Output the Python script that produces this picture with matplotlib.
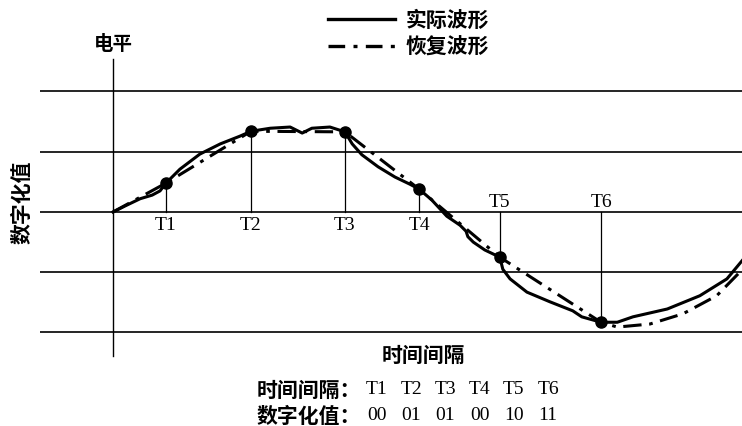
import matplotlib
matplotlib.use("Agg")
import matplotlib.pyplot as plt
from matplotlib.lines import Line2D

plt.rcParams['font.family'] = ['Noto Sans CJK SC', 'DejaVu Sans']

# sample instants and the level of the waveform at each one
sample_labels = ['T1', 'T2', 'T3', 'T4', 'T5', 'T6']
sample_codes = ['00', '01', '01', '00', '10', '11']
sample_t = [0.88, 2.29, 3.85, 5.08, 6.42, 8.10]
sample_v = [0.48, 1.34, 1.33, 0.38, -0.75, -1.83]

# actual analogue waveform (traced)
actual_t = [0.00, 0.20, 0.45, 0.65, 0.78, 0.88, 1.11, 1.44, 1.78, 2.11, 2.29,
            2.61, 2.94, 3.14, 3.30, 3.60, 3.85, 3.97, 4.13, 4.40, 4.68, 4.93,
            5.08, 5.29, 5.54, 5.76, 5.86, 5.89, 5.98, 6.17, 6.42, 6.47, 6.59,
            6.87, 7.25, 7.63, 7.78, 8.10, 8.37, 8.63, 9.20, 9.74, 10.19, 10.49]
actual_v = [0.00, 0.10, 0.22, 0.28, 0.35, 0.48, 0.71, 0.96, 1.13, 1.26, 1.34,
            1.39, 1.41, 1.31, 1.39, 1.41, 1.33, 1.13, 0.95, 0.75, 0.58, 0.46,
            0.38, 0.20, -0.07, -0.22, -0.32, -0.41, -0.50, -0.63, -0.75, -0.95, -1.11,
            -1.33, -1.49, -1.64, -1.74, -1.83, -1.83, -1.74, -1.61, -1.39, -1.11, -0.75]

# recovered waveform: origin, the samples, then the tail after T6
recovered_t = [0.00] + sample_t + [8.37, 8.91, 9.46, 10.02, 10.49]
recovered_v = [0.00] + sample_v + [-1.91, -1.86, -1.69, -1.39, -0.91]

levels = [2, 1, 0, -1, -2]

fig = plt.figure(figsize=(7.42, 4.27), dpi=100)
ax = fig.add_axes([0, 0, 1, 1])
ax.set_xlim(-1.876, 10.44)
ax.set_ylim(-3.552, 3.535)
ax.axis('off')

# level lines and the vertical axis
for lv in levels:
    ax.plot([-1.21, 10.44], [lv, lv], color='black', lw=1.2, solid_capstyle='butt')
ax.plot([0, 0], [-2.39, 2.54], color='black', lw=1.0)

# stems from the zero line to each sample
for t, v in zip(sample_t, sample_v):
    ax.plot([t, t], [0, v], color='black', lw=0.9)

ax.plot(actual_t, actual_v, color='black', lw=2.2, solid_joinstyle='round')
ax.plot(recovered_t, recovered_v, color='black', lw=2.2,
        linestyle=(0, (6, 2.5, 1.2, 2.5)))
ax.plot(sample_t, sample_v, 'o', color='black', markersize=8)

# sample labels: below the zero line for positive samples, above otherwise
for t, v, lab in zip(sample_t, sample_v, sample_labels):
    if v > 0:
        ax.text(t, -0.2, lab, ha='center', va='center', fontsize=14,
                family='Liberation Serif')
    else:
        ax.text(t, 0.17, lab, ha='center', va='center', fontsize=14,
                family='Liberation Serif')

ax.text(0.0, 2.79, '电平', ha='center', va='center', fontsize=14, fontweight='bold')
ax.text(-1.51, 0.17, '数字化值', ha='center', va='center', fontsize=15,
        fontweight='bold', rotation=90)
ax.text(5.15, -2.36, '时间间隔', ha='center', va='center', fontsize=15, fontweight='bold')

# hand-made legend
W, H = 742, 427
fig.add_artist(Line2D([328 / W, 395 / W], [1 - 20 / H, 1 - 20 / H], color='black', lw=2.4))
fig.add_artist(Line2D([328 / W, 395 / W], [1 - 47 / H, 1 - 47 / H], color='black', lw=2.4,
                      linestyle=(0, (5, 2.5, 1.2, 2.5))))
fig.text(406 / W, 1 - 20 / H, '实际波形', ha='left', va='center', fontsize=15, fontweight='bold')
fig.text(406 / W, 1 - 47 / H, '恢复波形', ha='left', va='center', fontsize=15, fontweight='bold')

# bottom table
row_y = [1 - 390 / H, 1 - 416 / H]
fig.text(257 / W, row_y[0], '时间间隔：', ha='left', va='center', fontsize=15, fontweight='bold')
fig.text(257 / W, row_y[1], '数字化值：', ha='left', va='center', fontsize=15, fontweight='bold')
for i, (lab, code) in enumerate(zip(sample_labels, sample_codes)):
    x = (377 + i * 34.2) / W
    fig.text(x, row_y[0], lab, ha='center', va='center', fontsize=14, family='Liberation Serif')
    fig.text(x, row_y[1], code, ha='center', va='center', fontsize=14, family='Liberation Serif')

fig.savefig('out.png', dpi=100)
